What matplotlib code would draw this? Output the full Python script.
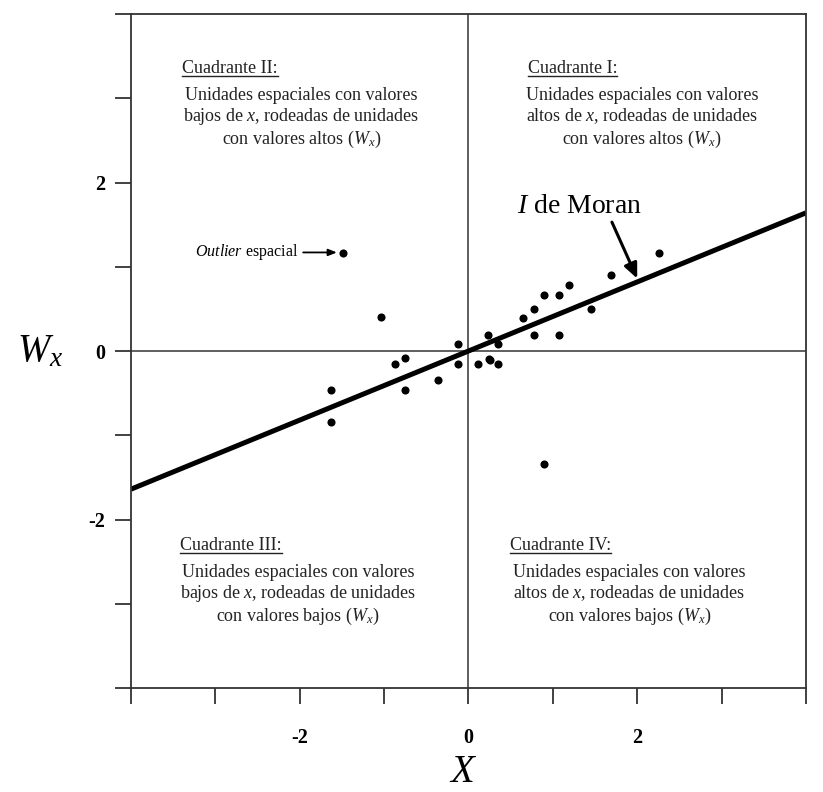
import matplotlib
matplotlib.use("Agg")
import matplotlib.pyplot as plt
from matplotlib.lines import Line2D
import numpy as np

plt.rcParams['font.family'] = ['Liberation Serif', 'DejaVu Serif']
plt.rcParams['mathtext.fontset'] = 'custom'
plt.rcParams['mathtext.rm'] = 'Liberation Serif'
plt.rcParams['mathtext.it'] = 'Liberation Serif:italic'

# data
x_vals = [-1.49, -1.04, -1.63, -1.63, -0.87, -0.75, -0.75, -0.36, -0.12, -0.12,
          0.11, 0.23, 0.24, 0.26, 0.35, 0.35, 0.65, 0.78, 0.78, 0.89,
          1.07, 1.07, 1.19, 1.45, 1.69, 2.26, 0.89]
wx_vals = [1.16, 0.40, -0.46, -0.84, -0.15, -0.08, -0.46, -0.34, 0.08, -0.15,
           -0.15, 0.19, -0.09, -0.11, 0.08, -0.15, 0.39, 0.50, 0.19, 0.66,
           0.66, 0.19, 0.78, 0.50, 0.90, 1.16, -1.34]
moran_slope = 0.41
axis_limits = [-4, 4]
tick_values = [-4, -3, -2, -1, 0, 1, 2, 3, 4]
tick_labels = ['', '', '-2', '', '0', '', '2', '', '']

quad_titles = ["Cuadrante II:", "Cuadrante I:", "Cuadrante III:", "Cuadrante IV:"]
quad_bodies = [
    "Unidades espaciales con valores\nbajos de $x$, rodeadas de unidades\ncon valores altos ($W_x$)",
    "Unidades espaciales con valores\naltos de $x$, rodeadas de unidades\ncon valores altos ($W_x$)",
    "Unidades espaciales con valores\nbajos de $x$, rodeadas de unidades\ncon valores bajos ($W_x$)",
    "Unidades espaciales con valores\naltos de $x$, rodeadas de unidades\ncon valores bajos ($W_x$)",
]

fig = plt.figure(figsize=(8.23, 7.92), dpi=100)
ax = fig.add_axes([0.1592, 0.1313, 0.8201, 0.851])
ax.set_xlim(axis_limits)
ax.set_ylim(axis_limits)

for s in ax.spines.values():
    s.set_color('#333333')
    s.set_linewidth(1.3)

ax.axhline(0, color='#444444', lw=1.2, zorder=1)
ax.axvline(0, color='#444444', lw=1.2, zorder=1)

xl = np.array(axis_limits, dtype=float)
ax.plot(xl, moran_slope * xl, color='black', lw=3.6, solid_capstyle='butt', zorder=2)
ax.scatter(x_vals, wx_vals, s=34, color='black', zorder=3, linewidths=0)

ax.set_xticks(tick_values)
ax.set_xticklabels(tick_labels)
ax.set_yticks(tick_values)
ax.set_yticklabels(tick_labels)
ax.tick_params(axis='x', direction='out', length=11.5, width=1.3, color='#333333', pad=17,
               labelsize=14.5)
ax.tick_params(axis='y', direction='out', length=11.5, width=1.3, color='#333333', pad=7,
               labelsize=14.5)
for lab in ax.get_xticklabels() + ax.get_yticklabels():
    lab.set_fontweight('bold')

fig.text(40 / 823, 1 - 352 / 792, "$W_x$", fontsize=28, ha='center', va='center')
fig.text(463 / 823, 1 - 773 / 792, "$X$", fontsize=28, ha='center', va='center')

title_pos = [(-3.39, 3.35), (0.70, 3.35), (-3.42, -2.31), (0.49, -2.31)]
body_pos = [(-1.98, 2.76), (2.06, 2.76), (-2.02, -2.90), (1.91, -2.90)]
title_texts = []
for t, (tx, ty) in zip(quad_titles, title_pos):
    title_texts.append(ax.text(tx, ty, t, fontsize=13, ha='left', va='center', color='#222222'))
for b, (bx, by) in zip(quad_bodies, body_pos):
    ax.text(bx, by, b, fontsize=13, ha='center', va='center', multialignment='center',
            linespacing=1.15, color='#222222')

ax.text(1.32, 1.72, "$I$ de Moran", fontsize=20, ha='center', va='center')
ax.annotate("", xy=(2.0, 0.86), xytext=(1.70, 1.53),
            arrowprops=dict(arrowstyle='-|>,head_length=0.9,head_width=0.4', color='black',
                            lw=2.2, shrinkA=0, shrinkB=0))

ax.text(-2.01, 1.17, r"$\mathit{Outlier}$ espacial", fontsize=11.5, ha='right', va='center')
ax.annotate("", xy=(-1.56, 1.17), xytext=(-1.96, 1.17),
            arrowprops=dict(arrowstyle='-|>,head_length=0.5,head_width=0.2', color='black',
                            lw=1.3, shrinkA=0, shrinkB=0))

fig.canvas.draw()
r = fig.canvas.get_renderer()
inv = fig.transFigure.inverted()
for t in title_texts:
    bb = t.get_window_extent(r)
    p0 = inv.transform((bb.x0, bb.y0 + 1))
    p1 = inv.transform((bb.x1, bb.y0 + 1))
    fig.add_artist(Line2D([p0[0], p1[0]], [p0[1], p1[1]], color='#222222', lw=1.0,
                          transform=fig.transFigure))

fig.savefig("out.png", dpi=100)
